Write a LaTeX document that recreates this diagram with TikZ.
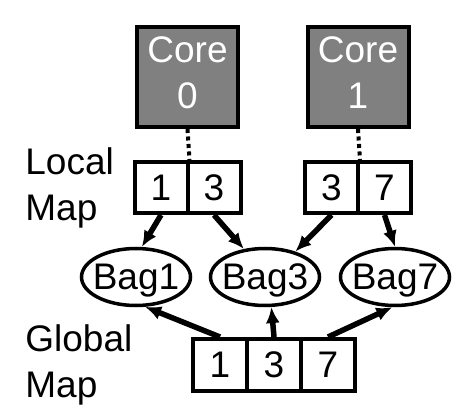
\documentclass[tikz,border=0pt]{standalone}
\usepackage{fontspec}
\setmainfont{Liberation Sans}
\usetikzlibrary{arrows.meta, shapes}

\begin{document}
\begin{tikzpicture}[x=1pt, y=-1pt, thick]

		\tikzstyle{big}=[font=\fontsize{37}{46}\selectfont]
		\tikzstyle{core}=[big, rectangle, draw, line width=4pt, fill=black!50, text=white, align=center, inner sep=0pt, minimum width=101pt, minimum height=100pt, text depth=9pt]
		\tikzstyle{cell}=[big, rectangle, draw, line width=4pt, fill=white, inner sep=0pt, minimum width=53pt, minimum height=51pt]
		\tikzstyle{gcell}=[big, rectangle, draw, line width=4pt, fill=white, inner sep=0pt, minimum width=54pt, minimum height=52pt]
		\tikzstyle{bag}=[big, ellipse, draw, line width=3.5pt, inner xsep=-10pt, inner ysep=0pt, minimum width=109pt, minimum height=57pt, text depth=0pt]
		\tikzstyle{maplabel}=[big, anchor=north west, align=left, inner sep=0pt]
		\tikzstyle{feed}=[-{Latex[length=16pt, width=14pt]}, line width=5.5pt]

		\useasboundingbox (0,0) rectangle (461,414);

		\node[core] (c0) at (187.5,77) {Core\\0};
		\node[core] (c1) at (358,77)   {Core\\1};

		\node[maplabel] (lml) at (25,147) {Local\\Map};
		\node[maplabel] (gml) at (25,324) {Global\\Map};

		% Local maps
		\node[cell] (l0a) at (161,187.5)   {1};
		\node[cell] (l0b) at (214,187.5)   {3};
		\node[cell] (l1a) at (331.5,187.5) {3};
		\node[cell] (l1b) at (384.5,187.5) {7};

		% Bags
		\node[bag] (b1) at (136,277) {Bag1};
		\node[bag] (b3) at (265,277) {Bag3};
		\node[bag] (b7) at (395,277) {Bag7};

		% Global map
		\node[gcell] (g1) at (220,365) {1};
		\node[gcell] (g3) at (274,365) {3};
		\node[gcell] (g7) at (328,365) {7};

		\draw[line width=4pt, dash pattern=on 4pt off 3.5pt] (c0.south) -- (l0a.north east);
		\draw[line width=4pt, dash pattern=on 4pt off 3.5pt] (c1.south) -- (l1a.north east);

		\draw[feed] (l0a.south) -- (b1.79);
		\draw[feed] (l0b.south) -- (b3.127);
		\draw[feed] (l1a.south) -- (b3.40);
		\draw[feed] (l1b.south) -- (b7.north);

		\draw[feed] (g1.north) -- (b1.-73);
		\draw[feed] (g3.north) -- (b3.-78);
		\draw[feed] (g7.north) -- (b7.-95);
\end{tikzpicture}
\end{document}
